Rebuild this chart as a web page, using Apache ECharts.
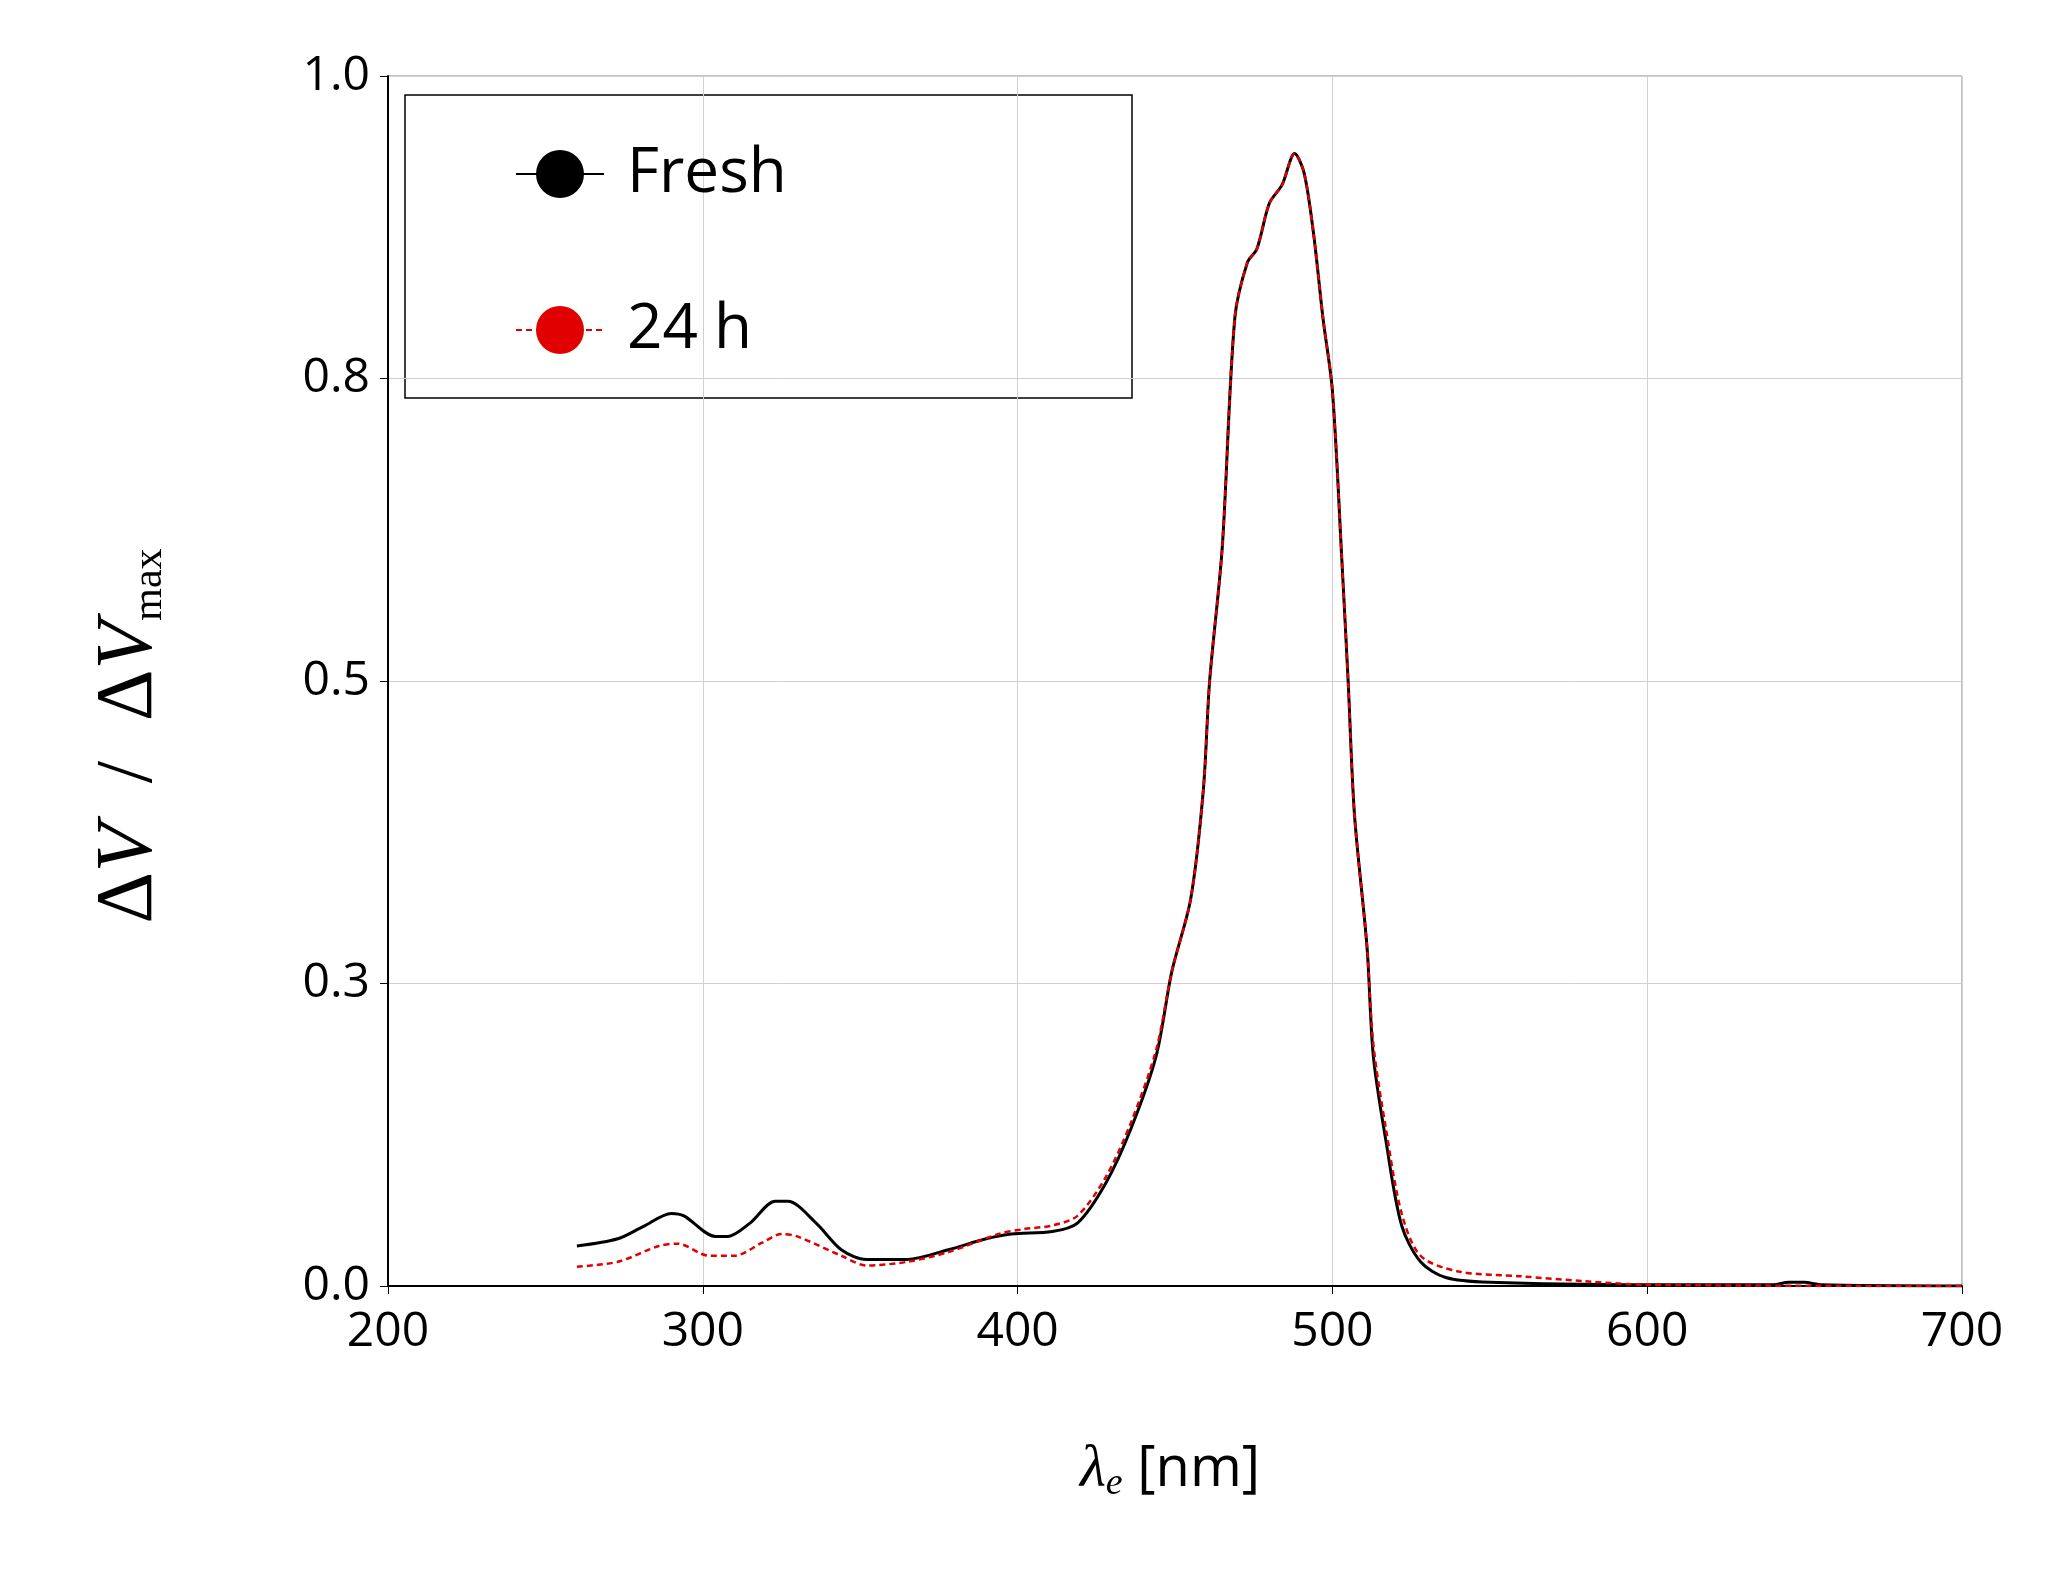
<!DOCTYPE html>
<html><head><meta charset="utf-8">
<script src="https://cdn.jsdelivr.net/npm/echarts@6/dist/echarts.min.js"></script>
<style>html,body{margin:0;background:#fff}#c{width:2062px;height:1571px}</style>
</head><body><div id="c"></div>
<script>
const freshX = [260,273,281,290,294,304,308,315,323,327,336,344,352,365,378,390,398,411,419,428,436,444,449,455,459,461,465,469,473,476,480,484,488,491,494,497,500,503,505,507,511,513,517,522,528,536,550,600,640,645,650,655,700];
const freshY = [0.033,0.039,0.049,0.060,0.058,0.041,0.041,0.052,0.070,0.070,0.052,0.030,0.022,0.022,0.030,0.039,0.043,0.045,0.052,0.085,0.13,0.19,0.26,0.32,0.41,0.50,0.61,0.80,0.846,0.857,0.895,0.91,0.936,0.92,0.87,0.80,0.74,0.60,0.50,0.39,0.28,0.19,0.12,0.05,0.02,0.007,0.003,0.001,0.001,0.003,0.003,0.001,0.0];
const h24X = [260,273,286,292,302,310,319,325,330,344,352,365,378,394,402,411,419,428,436,444,449,455,459,461,465,469,473,476,480,484,488,491,494,497,500,503,505,507,511,513,517,522,528,540,560,580,600,700];
const h24Y = [0.016,0.020,0.033,0.035,0.025,0.025,0.036,0.043,0.041,0.025,0.017,0.020,0.028,0.043,0.047,0.050,0.058,0.09,0.135,0.195,0.26,0.32,0.41,0.50,0.61,0.80,0.846,0.857,0.895,0.91,0.936,0.92,0.87,0.80,0.74,0.60,0.50,0.39,0.28,0.20,0.13,0.06,0.025,0.012,0.008,0.004,0.001,0.0];
const seriesNames = ['Fresh','24 h'];
const pair = (xs, ys) => xs.map((x,i)=>[x,ys[i]]);
const chart = echarts.init(document.getElementById('c'));
chart.setOption({
  animation:false,
  grid:{left:388,right:100,top:76,bottom:285,show:true,borderColor:'#888',borderWidth:1},
  xAxis:{type:'value',min:200,max:700,interval:100,
    axisLine:{show:true,lineStyle:{color:'#000',width:2}},
    axisTick:{show:true,length:8,lineStyle:{color:'#000'}},
    axisLabel:{fontSize:48,color:'#000',fontFamily:'Open Sans',margin:22},
    splitLine:{show:true,lineStyle:{color:'#d0d0d0',width:1}}},
  yAxis:{type:'value',min:0,max:1,interval:0.25,
    axisLine:{show:true,lineStyle:{color:'#000',width:2}},
    axisTick:{show:true,length:8,lineStyle:{color:'#000'}},
    axisLabel:{fontSize:48,color:'#000',fontFamily:'Open Sans',margin:18,formatter:v=>v.toFixed(1)},
    splitLine:{show:true,lineStyle:{color:'#d0d0d0',width:1}}},
  legend:{orient:'vertical',left:510,top:138,itemWidth:88,itemHeight:60,itemGap:94,
    textStyle:{fontSize:62,color:'#000',fontFamily:'Open Sans',lineHeight:60,padding:[0,0,0,18]},
    data:seriesNames},
  graphic:[
    {type:'rect',shape:{x:405,y:95,width:727,height:303},style:{fill:'none',stroke:'#000',lineWidth:1.5},z:-1},
    {type:'text',x:130,y:736,rotation:Math.PI/2,style:{text:'{n|Δ}{i|V}{n|  /  Δ}{i|V}{s|max}',align:'center',verticalAlign:'middle',
      rich:{i:{fontSize:80,fontFamily:'Liberation Serif',fontStyle:'italic',fill:'#000'},
            n:{fontSize:80,fontFamily:'Liberation Serif',fill:'#000'},
            s:{fontSize:42,fontFamily:'Liberation Serif',fill:'#000',padding:[40,0,0,0]}}}},
    {type:'text',x:1170,y:1470,style:{text:'{i|λ}{s|e}{n| [nm]}',align:'center',verticalAlign:'middle',
      rich:{i:{fontSize:60,fontFamily:'Liberation Serif',fontStyle:'italic',fill:'#000'},
            s:{fontSize:38,fontFamily:'Liberation Serif',fontStyle:'italic',fill:'#000',padding:[28,0,0,0]},
            n:{fontSize:56,fontFamily:'Open Sans',fill:'#000'}}}}
  ],
  series:[
    {name:seriesNames[0],type:'line',data:pair(freshX,freshY),showSymbol:false,symbol:'none',smooth:0.3,
      lineStyle:{color:'#000',width:3},itemStyle:{color:'#000'},z:2},
    {name:seriesNames[1],type:'line',data:pair(h24X,h24Y),showSymbol:false,symbol:'none',smooth:0.3,
      lineStyle:{color:'#e00000',width:2.5,type:[6,4]},itemStyle:{color:'#e00000'},z:3}
  ]
});
</script></body></html>
